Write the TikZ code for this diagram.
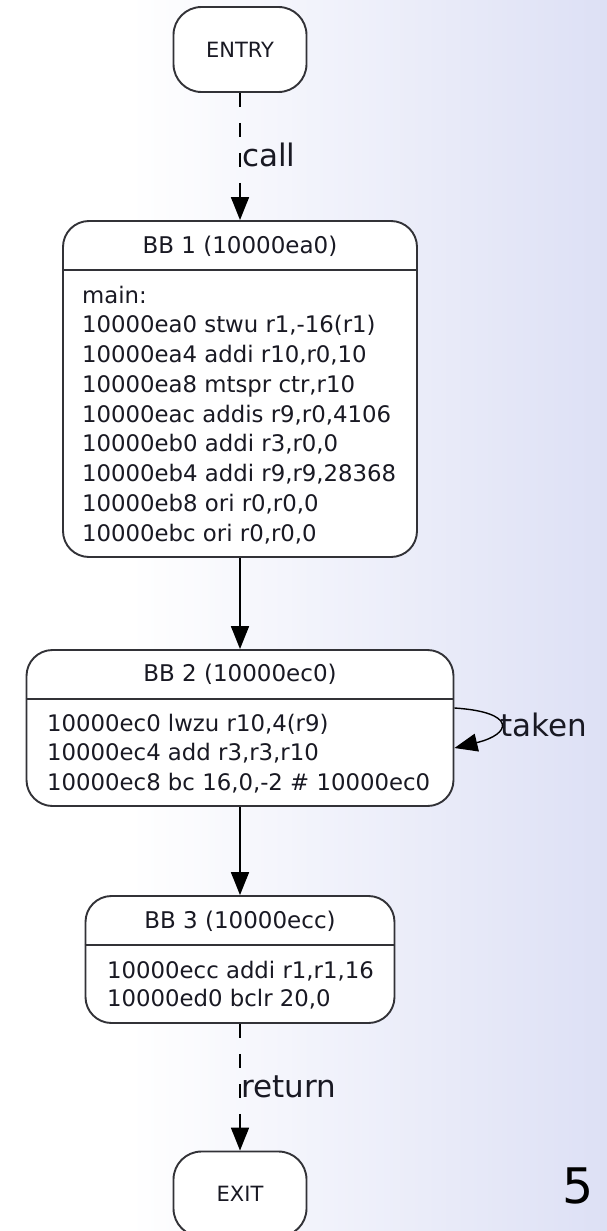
\documentclass[tikz,border=0pt]{standalone}
\usepackage{fontspec}
\setmainfont{DejaVu Sans}
\usetikzlibrary{arrows.meta}
\definecolor{slidebg}{RGB}{221,224,245}
\definecolor{slidemid}{RGB}{238,240,250}
\definecolor{boxline}{RGB}{50,50,55}
\definecolor{inktext}{RGB}{25,25,35}
\newcommand{\setfs}[1]{\fontsize{#1}{#1}\selectfont}
\begin{document}
\begin{tikzpicture}[x=1pt,y=-1pt]

	\tikzstyle{terminal} = [draw=boxline,line width=1.9pt,fill=white,rounded corners=28pt,minimum width=133pt,minimum height=85pt,inner sep=0pt,text=inktext,font=\setfs{21}]
	\tikzstyle{block} = [draw=boxline,line width=1.9pt,fill=white,rounded corners=26pt,inner sep=0pt]
	\tikzstyle{bbtitle} = [inner sep=0pt,anchor=base,text=inktext,font=\setfs{23}]
	\tikzstyle{codeline} = [inner sep=0pt,anchor=base west,text=inktext,font=\setfs{22.8}]
	\tikzstyle{sepline} = [draw=boxline,line width=1.9pt]
	\tikzstyle{flow} = [line width=1.8pt,-{Triangle[length=23pt,width=18pt]}]
	\tikzstyle{edgetext} = [inner sep=0pt,anchor=west,text=inktext,font=\setfs{31}]

	\useasboundingbox (0,0) rectangle (607,1231);
	\clip (0,0) rectangle (607,1231);
	% slide background
	\fill[white] (0,0) rectangle (131,1231);
	\shade[left color=white,middle color=slidemid,right color=slidebg] (130,0) rectangle (607,1231);

	% entry and exit
	\node[terminal] (entry) at (240,49.5) {ENTRY};
	\node[terminal] (exit) at (240,1194) {EXIT};

	% BB 1
	\node[block,minimum width=354pt,minimum height=336pt] (bb1) at (240,389) {};
	\node[bbtitle] (bb1title) at (240,253) {BB 1 (10000ea0)};
	\draw[sepline] (bb1.west |- 0,270) -- (bb1.east |- 0,270);
	\foreach \txt [count=\i from 0] in {main:, {10000ea0 stwu r1,-16(r1)}, {10000ea4 addi r10,r0,10}, {10000ea8 mtspr ctr,r10}, {10000eac addis r9,r0,4106}, {10000eb0 addi r3,r0,0}, {10000eb4 addi r9,r9,28368}, {10000eb8 ori r0,r0,0}, {10000ebc ori r0,r0,0}}
		\node[codeline] (bb1line\i) at (82,303+29.75*\i) {\txt};

	% BB 2
	\node[block,minimum width=427pt,minimum height=156pt] (bb2) at (240,728) {};
	\node[bbtitle] (bb2title) at (240,681) {BB 2 (10000ec0)};
	\draw[sepline] (bb2.west |- 0,699) -- (bb2.east |- 0,699);
	\foreach \txt [count=\i from 0] in {{10000ec0 lwzu r10,4(r9)}, {10000ec4 add r3,r3,r10}, {10000ec8 bc 16,0,-2 \# 10000ec0}}
		\node[codeline] (bb2line\i) at (47,731+29.5*\i) {\txt};

	% BB 3
	\node[block,minimum width=309pt,minimum height=127pt] (bb3) at (240,959.5) {};
	\node[bbtitle] (bb3title) at (240,928) {BB 3 (10000ecc)};
	\draw[sepline] (bb3.west |- 0,945) -- (bb3.east |- 0,945);
	\foreach \txt [count=\i from 0] in {{10000ecc addi r1,r1,16}, {10000ed0 bclr 20,0}}
		\node[codeline] (bb3line\i) at (107,978+28*\i) {\txt};

	% edges
	\draw[flow,dash pattern=on 14pt off 16pt] (entry) -- (bb1);
	\node[edgetext] (calltext) at (242,155) {call};
	\draw[flow] (bb1) -- (bb2);
	\draw[flow,line width=1.4pt] ([yshift=20pt]bb2.east) .. controls +(62,4) and +(58,-14) .. ([yshift=-20pt]bb2.east);
	\node[edgetext] (takentext) at (500,725) {taken};
	\draw[flow] (bb2) -- (bb3);
	\draw[flow,dash pattern=on 14pt off 16pt] (bb3) -- (exit);
	\node[edgetext] (returntext) at (241,1087) {return};

	\node[inner sep=0pt,anchor=base west,font=\setfs{49}] (pagenum) at (562,1203) {5};
\end{tikzpicture}
\end{document}
